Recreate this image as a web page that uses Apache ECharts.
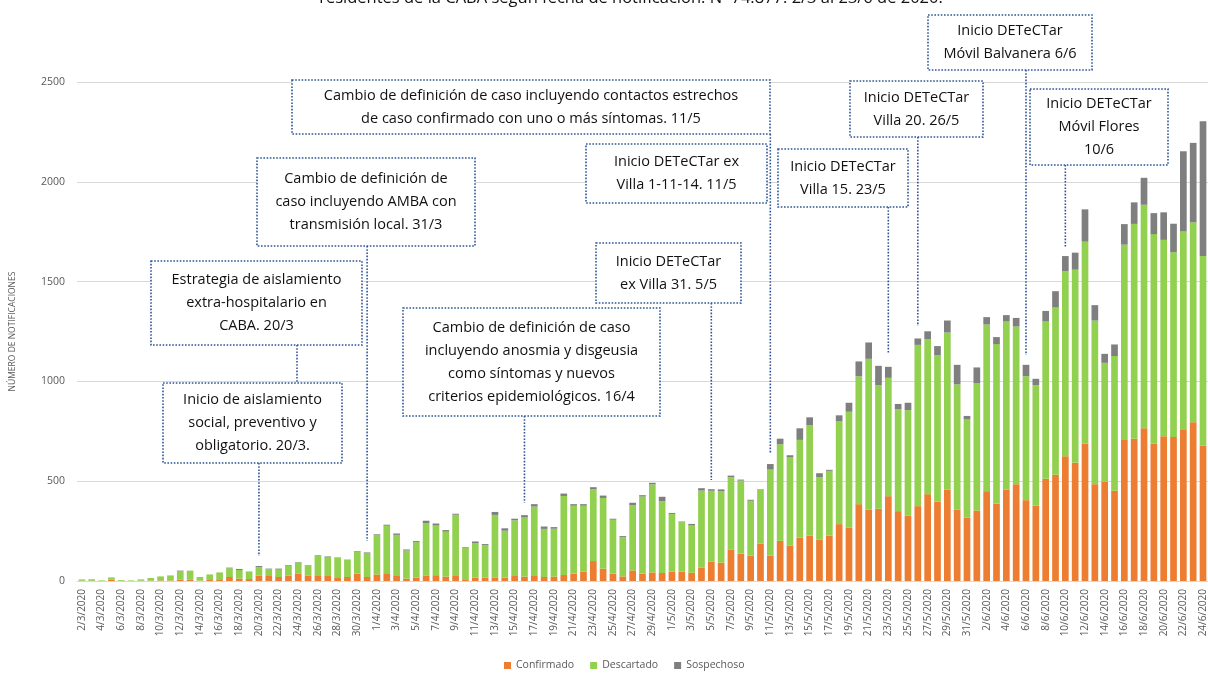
<!DOCTYPE html>
<html>
<head>
  <meta charset="utf-8">
  <script src="https://cdn.jsdelivr.net/npm/echarts@6/dist/echarts.min.js"></script>
  <style>
    html, body { margin: 0; padding: 0; background: #fff; }
  </style>
</head>
<body>
  <div id="id_chart" style="width: 1208px; height: 673px;"></div>

  <script type="text/javascript">
    // fechas de notificacion
    var fechas = [
      '2/3/2020', '3/3/2020', '4/3/2020', '5/3/2020', '6/3/2020', '7/3/2020', '8/3/2020', '9/3/2020', '10/3/2020', '11/3/2020',
      '12/3/2020', '13/3/2020', '14/3/2020', '15/3/2020', '16/3/2020', '17/3/2020', '18/3/2020', '19/3/2020', '20/3/2020', '21/3/2020',
      '22/3/2020', '23/3/2020', '24/3/2020', '25/3/2020', '26/3/2020', '27/3/2020', '28/3/2020', '29/3/2020', '30/3/2020', '31/3/2020',
      '1/4/2020', '2/4/2020', '3/4/2020', '4/4/2020', '5/4/2020', '6/4/2020', '7/4/2020', '8/4/2020', '9/4/2020', '10/4/2020',
      '11/4/2020', '12/4/2020', '13/4/2020', '14/4/2020', '15/4/2020', '16/4/2020', '17/4/2020', '18/4/2020', '19/4/2020', '20/4/2020',
      '21/4/2020', '22/4/2020', '23/4/2020', '24/4/2020', '25/4/2020', '26/4/2020', '27/4/2020', '28/4/2020', '29/4/2020', '30/4/2020',
      '1/5/2020', '2/5/2020', '3/5/2020', '4/5/2020', '5/5/2020', '6/5/2020', '7/5/2020', '8/5/2020', '9/5/2020', '10/5/2020',
      '11/5/2020', '12/5/2020', '13/5/2020', '14/5/2020', '15/5/2020', '16/5/2020', '17/5/2020', '18/5/2020', '19/5/2020', '20/5/2020',
      '21/5/2020', '22/5/2020', '23/5/2020', '24/5/2020', '25/5/2020', '26/5/2020', '27/5/2020', '28/5/2020', '29/5/2020', '30/5/2020',
      '31/5/2020', '1/6/2020', '2/6/2020', '3/6/2020', '4/6/2020', '5/6/2020', '6/6/2020', '7/6/2020', '8/6/2020', '9/6/2020',
      '10/6/2020', '11/6/2020', '12/6/2020', '13/6/2020', '14/6/2020', '15/6/2020', '16/6/2020', '17/6/2020', '18/6/2020', '19/6/2020',
      '20/6/2020', '21/6/2020', '22/6/2020', '23/6/2020', '24/6/2020'
    ];

    var confirmado = [
      1, 1, 0, 6, 1, 0, 1, 2, 3, 3,
      8, 8, 2, 5, 5, 20, 12, 10, 27, 25,
      20, 27, 38, 28, 25, 25, 15, 20, 37, 20,
      33, 39, 25, 12, 17, 28, 29, 22, 25, 5,
      17, 17, 18, 17, 25, 22, 25, 20, 22, 30,
      37, 47, 100, 62, 37, 23, 53, 37, 43, 40,
      47, 47, 41, 66, 98, 92, 158, 137, 127, 188,
      128, 201, 178, 218, 228, 207, 227, 285, 268, 385,
      357, 362, 425, 350, 328, 375, 435, 398, 457, 357,
      318, 353, 450, 388, 457, 485, 405, 377, 512, 532,
      625, 592, 687, 485, 498, 452, 707, 713, 765, 688,
      725, 722, 760, 795, 678
    ];

    var descartado = [
      7, 8, 3, 9, 4, 3, 7, 13, 20, 25,
      42, 44, 18, 28, 38, 44, 43, 38, 43, 35,
      37, 50, 55, 50, 103, 93, 101, 88, 110, 118,
      199, 238, 206, 141, 178, 262, 249, 225, 307, 162,
      173, 163, 313, 235, 279, 296, 348, 241, 240, 396,
      340, 330, 360, 354, 270, 197, 327, 386, 441, 360,
      289, 248, 237, 387, 354, 357, 362, 366, 275, 270,
      430, 484, 441, 489, 552, 313, 325, 515, 580, 640,
      756, 619, 593, 510, 528, 808, 776, 732, 788, 628,
      491, 637, 835, 799, 845, 790, 621, 604, 788, 838,
      926, 968, 1013, 820, 595, 675, 978, 1076, 1120, 1050,
      984, 925, 991, 1002, 950
    ];

    var sospechoso = [
      0, 0, 0, 2, 0, 0, 0, 0, 0, 0,
      2, 0, 0, 0, 0, 3, 5, 0, 5, 2,
      5, 3, 2, 2, 2, 5, 2, 0, 3, 5,
      3, 5, 7, 5, 5, 12, 10, 8, 5, 3,
      8, 5, 15, 12, 8, 12, 12, 12, 8, 12,
      8, 8, 10, 12, 5, 5, 12, 7, 8, 22,
      5, 3, 8, 12, 8, 10, 8, 5, 5, 2,
      28, 28, 11, 58, 40, 20, 5, 30, 45, 75,
      82, 97, 55, 27, 37, 32, 40, 47, 60, 98,
      18, 80, 37, 35, 30, 43, 57, 32, 53, 82,
      77, 85, 162, 77, 45, 58, 103, 108, 135, 105,
      138, 143, 402, 398, 675
    ];

    var serieNombres = ['Confirmado', 'Descartado', 'Sospechoso'];
    var serieColores = ['#ED7D31', '#92D050', '#7F7F7F'];

    var titulo = 'residentes de la CABA según fecha de notificación. N=74.877. 2/3 al 23/6 de 2020.';

    // anotaciones: texto, caja [x, y, ancho, alto], fecha del conector, fin del conector (px)
    var anotaciones = [
      { texto: 'Inicio de aislamiento\nsocial, preventivo y\nobligatorio. 20/3.', caja: [163, 383, 179, 80], fecha: '20/3/2020', finY: 556 },
      { texto: 'Estrategia de aislamiento\nextra-hospitalario en\nCABA. 20/3', caja: [151, 261, 211, 84], conectorX: 297, finY: 383 },
      { texto: 'Cambio de definición de\ncaso incluyendo AMBA con\ntransmisión local. 31/3', caja: [257, 158, 218, 88], fecha: '31/3/2020', finY: 541 },
      { texto: 'Cambio de definición de caso\nincluyendo anosmia y disgeusia\ncomo síntomas y nuevos\ncriterios epidemiológicos. 16/4', caja: [403, 308, 257, 108], fecha: '16/4/2020', finY: 503 },
      { texto: 'Inicio DETeCTar\nex Villa 31. 5/5', caja: [596, 243, 145, 60], fecha: '5/5/2020', finY: 480 },
      { texto: 'Cambio de definición de caso incluyendo contactos estrechos\nde caso confirmado con uno o más síntomas. 11/5', caja: [292, 80, 478, 54], fecha: '11/5/2020', finY: 454 },
      { texto: 'Inicio DETeCTar ex\nVilla 1-11-14. 11/5', caja: [586, 144, 181, 59] },
      { texto: 'Inicio DETeCTar\nVilla 15. 23/5', caja: [778, 149, 130, 58], fecha: '23/5/2020', finY: 354 },
      { texto: 'Inicio DETeCTar\nVilla 20. 26/5', caja: [850, 81, 133, 56], fecha: '26/5/2020', finY: 326 },
      { texto: 'Inicio DETeCTar\nMóvil Balvanera 6/6', caja: [928, 15, 164, 55], fecha: '6/6/2020', finY: 355 },
      { texto: 'Inicio DETeCTar\nMóvil Flores\n10/6', caja: [1030, 89, 138, 76], fecha: '10/6/2020', finY: 248 }
    ];

    var FUENTE = '"Open Sans", "Liberation Sans", sans-serif';
    var AZUL = '#2F5597';

    var myChart = echarts.init(document.getElementById('id_chart'));

    var series = [];
    var valores = [confirmado, descartado, sospechoso];
    for (var s = 0; s < serieNombres.length; s++) {
      series.push({
        name: serieNombres[s],
        type: 'bar',
        stack: 'total',
        barCategoryGap: '32%',
        itemStyle: { color: serieColores[s] },
        emphasis: { disabled: true },
        data: valores[s]
      });
    }

    var option = {
      animation: false,
      textStyle: { fontFamily: FUENTE },
      grid: { left: 75, right: -2, top: 82, bottom: 92, containLabel: false },
      legend: {
        data: serieNombres,
        left: 499,
        top: 655,
        icon: 'rect',
        itemWidth: 7,
        itemHeight: 7,
        itemGap: 16,
        textStyle: { fontSize: 10.5, color: '#595959', fontFamily: FUENTE }
      },
      xAxis: {
        type: 'category',
        data: fechas,
        axisLine: { lineStyle: { color: '#D9D9D9' } },
        axisTick: { show: false },
        axisLabel: {
          interval: 1,
          rotate: 90,
          fontSize: 10,
          color: '#595959',
          margin: 8
        }
      },
      yAxis: {
        type: 'value',
        min: 0,
        max: 2500,
        interval: 500,
        name: 'NÚMERO DE NOTIFICACIONES',
        nameLocation: 'middle',
        nameRotate: 90,
        nameGap: 60,
        nameTextStyle: { fontSize: 8.5, color: '#595959' },
        axisLine: { show: false },
        axisTick: { show: false },
        axisLabel: {
          fontSize: 10.5,
          color: '#595959',
          margin: 12,
          formatter: function (v) { return String(v); }
        },
        splitLine: { lineStyle: { color: '#D9D9D9' } }
      },
      series: series
    };
    myChart.setOption(option);

    // cajas de anotacion con conectores punteados
    var lineas = [];
    var cajas = [];
    anotaciones.forEach(function (a) {
      var x = a.caja[0], y = a.caja[1], w = a.caja[2], h = a.caja[3];
      var cx = null;
      if (a.fecha) {
        cx = myChart.convertToPixel({ xAxisIndex: 0 }, a.fecha);
      } else if (a.conectorX) {
        cx = a.conectorX;
      }
      if (cx !== null) {
        lineas.push({
          type: 'line',
          silent: true,
          z: 10,
          shape: { x1: cx, y1: y + h, x2: cx, y2: a.finY },
          style: { stroke: AZUL, lineWidth: 1.6, lineDash: [1.6, 1.6] }
        });
      }
      cajas.push({
        type: 'rect',
        silent: true,
        z: 11,
        shape: { x: x, y: y, width: w, height: h },
        style: { fill: '#fff', stroke: AZUL, lineWidth: 1.6, lineDash: [1.6, 1.6] }
      });
      cajas.push({
        type: 'text',
        silent: true,
        z: 12,
        x: x + w / 2,
        y: y + h / 2,
        style: {
          text: a.texto,
          fill: '#111',
          font: '14.5px ' + FUENTE,
          align: 'center',
          verticalAlign: 'middle',
          textAlign: 'center',
          textVerticalAlign: 'middle',
          lineHeight: 23
        }
      });
    });

    var tituloEl = {
      type: 'text',
      silent: true,
      z: 12,
      x: 631,
      y: 7,
      style: {
        text: titulo,
        fill: '#111',
        font: '16.5px ' + FUENTE,
        align: 'center',
        verticalAlign: 'bottom',
        textAlign: 'center',
        textVerticalAlign: 'bottom'
      }
    };

    myChart.setOption({ graphic: lineas.concat(cajas).concat([tituloEl]) });
  </script>
</body>
</html>
